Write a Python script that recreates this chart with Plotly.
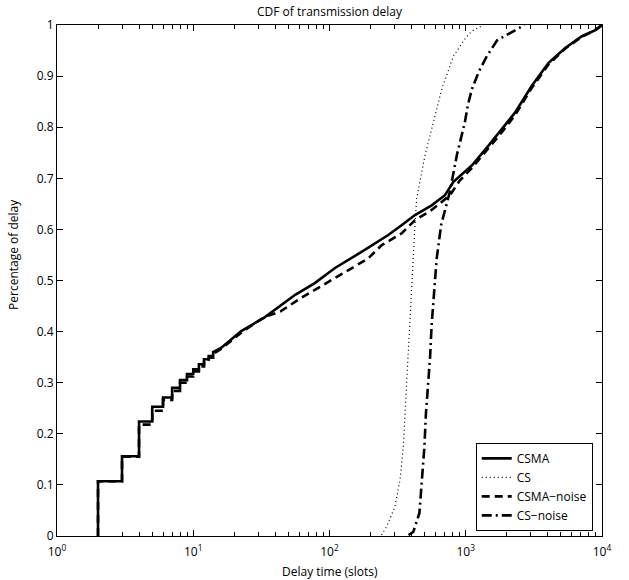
import plotly.graph_objects as go

# Discrete part of the delay CDFs (integer slot delays)
csma_step_x = [2, 3, 4, 5, 6, 7, 8, 9, 10, 11, 12, 13, 14]
csma_step_y = [0.107, 0.156, 0.224, 0.253, 0.271, 0.290, 0.305, 0.317, 0.326, 0.336, 0.346, 0.352, 0.360]
csma_noise_step_y = [0.107, 0.155, 0.218, 0.245, 0.266, 0.284, 0.300, 0.312, 0.322, 0.332, 0.341, 0.349, 0.356]

# Continuous part of the CSMA CDFs
csma_tail_x = [16, 22.5, 33, 56, 78, 109, 172, 270, 338, 424, 562, 704, 812, 1107, 1469,
               1840, 2305, 3055, 4055, 5375, 7125, 8930, 10000]
csma_tail_y = [0.368, 0.401, 0.427, 0.472, 0.495, 0.524, 0.556, 0.589, 0.608, 0.628, 0.647,
               0.667, 0.693, 0.725, 0.764, 0.796, 0.829, 0.881, 0.926, 0.955, 0.978, 0.990, 1.0]
csma_noise_tail_x = [16, 22.5, 33, 44, 62, 109, 192, 241, 338, 424, 562, 767, 900, 1107, 1469,
                     1840, 2305, 3055, 4055, 5375, 7125, 8930, 10000]
csma_noise_tail_y = [0.366, 0.398, 0.428, 0.440, 0.466, 0.505, 0.543, 0.569, 0.592, 0.618, 0.638,
                     0.667, 0.695, 0.720, 0.758, 0.790, 0.824, 0.877, 0.923, 0.954, 0.977, 0.990, 1.0]

# Carrier-sense CDFs
cs_x = [241, 262, 302, 329, 348, 358, 368, 379, 390, 401, 412, 424, 436, 502, 578, 666,
        812, 1000, 1107, 1350]
cs_y = [0.002, 0.018, 0.057, 0.109, 0.174, 0.239, 0.304, 0.349, 0.414, 0.479, 0.543, 0.609,
        0.660, 0.745, 0.809, 0.874, 0.939, 0.975, 0.988, 1.0]
cs_noise_x = [380, 412, 457, 475, 497, 510, 532, 547, 562, 588, 612, 660, 763, 860, 984, 1034,
              1107, 1240, 1427, 1700, 2290, 2700]
cs_noise_y = [0.002, 0.008, 0.045, 0.109, 0.174, 0.239, 0.304, 0.349, 0.414, 0.479, 0.543, 0.609,
              0.673, 0.745, 0.809, 0.842, 0.874, 0.907, 0.939, 0.970, 0.990, 1.0]

x_exponents = [0, 1, 2, 3, 4]
x_default_labels = ["1", "10", "100", "1000", "10k"]
y_ticks = [0, 0.1, 0.2, 0.3, 0.4, 0.5, 0.6, 0.7, 0.8, 0.9, 1]


def cdf_curve(step_x, step_y, tail_x, tail_y):
    """Staircase for the integer delays followed by the smooth tail."""
    xs, ys = [], []
    prev = 0.0
    for sx, sy in zip(step_x, step_y):
        xs += [sx, sx]
        ys += [prev, sy]
        prev = sy
    return xs + list(tail_x), ys + list(tail_y)


FONT = "Open Sans"
fig = go.Figure()

x1, y1 = cdf_curve(csma_step_x, csma_step_y, csma_tail_x, csma_tail_y)
x3, y3 = cdf_curve(csma_step_x, csma_noise_step_y, csma_noise_tail_x, csma_noise_tail_y)

fig.add_trace(go.Scatter(x=x1, y=y1, mode="lines", name="CSMA",
                         line=dict(color="black", width=2.6)))
fig.add_trace(go.Scatter(x=cs_x, y=cs_y, mode="lines", name="CS",
                         line=dict(color="black", width=1.2, dash="1px,3px")))
fig.add_trace(go.Scatter(x=x3, y=y3, mode="lines", name="CSMA\u2212noise",
                         line=dict(color="black", width=2.6, dash="8px,5px")))
fig.add_trace(go.Scatter(x=cs_noise_x, y=cs_noise_y, mode="lines", name="CS\u2212noise",
                         line=dict(color="black", width=2.6, dash="10px,4px,2px,4px")))

fig.update_layout(
    width=629, height=580,
    margin=dict(l=57, r=27, t=25, b=44),
    paper_bgcolor="white", plot_bgcolor="white",
    font=dict(family=FONT, size=12, color="black"),
    title=dict(text="CDF of transmission delay", x=0.5, xref="paper",
               y=1 - 12 / 580, yanchor="middle", font=dict(size=12)),
    showlegend=True,
    legend=dict(x=0.983, xanchor="right", y=0.01, yanchor="bottom",
                bgcolor="white", bordercolor="black", borderwidth=1,
                font=dict(size=12), tracegroupgap=0),
)

fig.update_xaxes(
    type="log", range=[0, 4],
    tickmode="linear", tick0=0, dtick=1,
    labelalias={lab: f"10<sup>{e}</sup>" for lab, e in zip(x_default_labels, x_exponents)},
    ticks="inside", ticklen=6, tickcolor="black", ticklabelstandoff=5,
    minor=dict(dtick="D1", ticks="inside", ticklen=4, tickcolor="black", showgrid=False),
    showline=True, linecolor="black", linewidth=1, mirror="ticks",
    showgrid=False, zeroline=False, tickfont=dict(size=12),
)
fig.update_yaxes(
    range=[0, 1], tickvals=y_ticks,
    ticks="inside", ticklen=6, tickcolor="black",
    showline=True, linecolor="black", linewidth=1, mirror="ticks",
    showgrid=False, zeroline=False, tickfont=dict(size=12),
)

fig.add_annotation(text="Delay time (slots)", xref="paper", yref="paper",
                   x=0.5, y=-35 / 511, yanchor="middle", showarrow=False,
                   font=dict(size=12))
fig.add_annotation(text="Percentage of delay", xref="paper", yref="paper",
                   x=-43 / 545, xanchor="center", y=0.55, yanchor="middle",
                   textangle=-90, showarrow=False, font=dict(size=12))

fig.write_html("out.html")
